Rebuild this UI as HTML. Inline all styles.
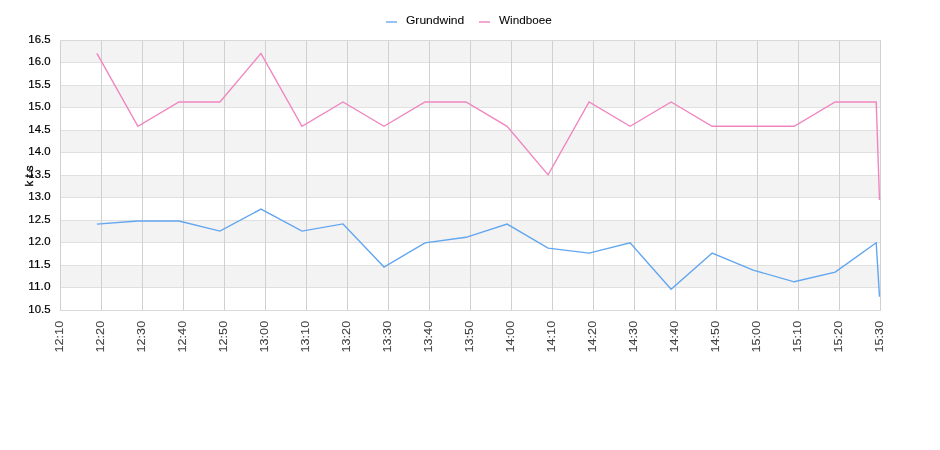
<!DOCTYPE html>
<html><head><meta charset="utf-8"><style>
html,body{margin:0;padding:0;background:#fff;width:940px;height:450px;overflow:hidden}
svg{display:block;will-change:transform}
.t{font-family:"Liberation Sans",sans-serif;font-size:11px;fill:#000;stroke:#000;stroke-width:0.2px}
.lg{stroke-width:0.05px}
.xl{fill:#404040;stroke:#404040;stroke-width:0.1px}
.k{font-family:"Liberation Sans",sans-serif;font-size:11.5px;fill:#000;stroke:#000;stroke-width:0.3px}
</style></head><body>
<svg width="940" height="450" viewBox="0 0 940 450">
<rect x="60" y="40.0" width="820" height="22.5" fill="#f3f3f3"/>
<rect x="60" y="85.0" width="820" height="22.5" fill="#f3f3f3"/>
<rect x="60" y="130.0" width="820" height="22.5" fill="#f3f3f3"/>
<rect x="60" y="175.0" width="820" height="22.5" fill="#f3f3f3"/>
<rect x="60" y="220.0" width="820" height="22.5" fill="#f3f3f3"/>
<rect x="60" y="265.0" width="820" height="22.5" fill="#f3f3f3"/>
<rect x="60" y="40" width="821" height="1" fill="#e0e0e0"/>
<rect x="60" y="62" width="821" height="1" fill="#e0e0e0"/>
<rect x="60" y="85" width="821" height="1" fill="#e0e0e0"/>
<rect x="60" y="107" width="821" height="1" fill="#e0e0e0"/>
<rect x="60" y="130" width="821" height="1" fill="#e0e0e0"/>
<rect x="60" y="152" width="821" height="1" fill="#e0e0e0"/>
<rect x="60" y="175" width="821" height="1" fill="#e0e0e0"/>
<rect x="60" y="197" width="821" height="1" fill="#e0e0e0"/>
<rect x="60" y="220" width="821" height="1" fill="#e0e0e0"/>
<rect x="60" y="242" width="821" height="1" fill="#e0e0e0"/>
<rect x="60" y="265" width="821" height="1" fill="#e0e0e0"/>
<rect x="60" y="287" width="821" height="1" fill="#e0e0e0"/>
<rect x="60" y="310" width="821" height="1" fill="#e0e0e0"/>
<rect x="60" y="40" width="1" height="271" fill="#d0d0d0"/>
<rect x="101" y="40" width="1" height="271" fill="#d0d0d0"/>
<rect x="142" y="40" width="1" height="271" fill="#d0d0d0"/>
<rect x="183" y="40" width="1" height="271" fill="#d0d0d0"/>
<rect x="224" y="40" width="1" height="271" fill="#d0d0d0"/>
<rect x="265" y="40" width="1" height="271" fill="#d0d0d0"/>
<rect x="306" y="40" width="1" height="271" fill="#d0d0d0"/>
<rect x="347" y="40" width="1" height="271" fill="#d0d0d0"/>
<rect x="388" y="40" width="1" height="271" fill="#d0d0d0"/>
<rect x="429" y="40" width="1" height="271" fill="#d0d0d0"/>
<rect x="470" y="40" width="1" height="271" fill="#d0d0d0"/>
<rect x="511" y="40" width="1" height="271" fill="#d0d0d0"/>
<rect x="552" y="40" width="1" height="271" fill="#d0d0d0"/>
<rect x="593" y="40" width="1" height="271" fill="#d0d0d0"/>
<rect x="634" y="40" width="1" height="271" fill="#d0d0d0"/>
<rect x="675" y="40" width="1" height="271" fill="#d0d0d0"/>
<rect x="716" y="40" width="1" height="271" fill="#d0d0d0"/>
<rect x="757" y="40" width="1" height="271" fill="#d0d0d0"/>
<rect x="798" y="40" width="1" height="271" fill="#d0d0d0"/>
<rect x="839" y="40" width="1" height="271" fill="#d0d0d0"/>
<rect x="880" y="40" width="1" height="271" fill="#d0d0d0"/>
<rect x="60" y="40" width="821" height="1" fill="#d9d9d9"/>
<rect x="60" y="310" width="821" height="1" fill="#d9d9d9"/>
<polyline points="96.90,224.10 137.92,221.00 178.93,221.00 219.95,231.10 260.96,209.10 301.98,231.10 343.00,223.90 384.01,267.00 425.03,242.90 466.04,237.30 507.06,224.10 548.08,248.10 589.09,253.10 630.11,242.90 671.12,289.20 712.14,253.10 753.16,270.10 794.17,281.80 835.19,272.10 876.20,242.80 879.50,296.80" fill="none" stroke="rgb(98,166,240)" stroke-width="1.4" stroke-linejoin="miter"/>
<polyline points="96.90,53.40 137.92,126.30 178.93,102.00 219.95,102.00 260.96,53.40 301.98,126.30 343.00,102.00 384.01,126.30 425.03,102.00 466.04,102.00 507.06,126.30 548.08,174.90 589.09,102.00 630.11,126.30 671.12,102.00 712.14,126.30 753.16,126.30 794.17,126.30 835.19,102.00 876.20,102.00 879.50,200.01" fill="none" stroke="rgb(240,134,192)" stroke-width="1.4" stroke-linejoin="miter"/>
<text x="50.5" y="43.1" text-anchor="end" class="t" textLength="22.17" lengthAdjust="spacingAndGlyphs">16.5</text>
<text x="50.5" y="65.1" text-anchor="end" class="t" textLength="22.17" lengthAdjust="spacingAndGlyphs">16.0</text>
<text x="50.5" y="88.1" text-anchor="end" class="t" textLength="22.17" lengthAdjust="spacingAndGlyphs">15.5</text>
<text x="50.5" y="110.1" text-anchor="end" class="t" textLength="22.17" lengthAdjust="spacingAndGlyphs">15.0</text>
<text x="50.5" y="133.1" text-anchor="end" class="t" textLength="22.17" lengthAdjust="spacingAndGlyphs">14.5</text>
<text x="50.5" y="155.1" text-anchor="end" class="t" textLength="22.17" lengthAdjust="spacingAndGlyphs">14.0</text>
<text x="50.5" y="178.1" text-anchor="end" class="t" textLength="22.17" lengthAdjust="spacingAndGlyphs">13.5</text>
<text x="50.5" y="200.1" text-anchor="end" class="t" textLength="22.17" lengthAdjust="spacingAndGlyphs">13.0</text>
<text x="50.5" y="223.1" text-anchor="end" class="t" textLength="22.17" lengthAdjust="spacingAndGlyphs">12.5</text>
<text x="50.5" y="245.1" text-anchor="end" class="t" textLength="22.17" lengthAdjust="spacingAndGlyphs">12.0</text>
<text x="50.5" y="268.1" text-anchor="end" class="t" textLength="22.17" lengthAdjust="spacingAndGlyphs">11.5</text>
<text x="50.5" y="290.1" text-anchor="end" class="t" textLength="22.17" lengthAdjust="spacingAndGlyphs">11.0</text>
<text x="50.5" y="313.1" text-anchor="end" class="t" textLength="22.17" lengthAdjust="spacingAndGlyphs">10.5</text>
<text transform="translate(62.6,320.8) rotate(-90)" text-anchor="end" class="t xl" textLength="31.70" lengthAdjust="spacingAndGlyphs">12:10</text>
<text transform="translate(103.6,320.8) rotate(-90)" text-anchor="end" class="t xl" textLength="31.70" lengthAdjust="spacingAndGlyphs">12:20</text>
<text transform="translate(144.6,320.8) rotate(-90)" text-anchor="end" class="t xl" textLength="31.70" lengthAdjust="spacingAndGlyphs">12:30</text>
<text transform="translate(185.6,320.8) rotate(-90)" text-anchor="end" class="t xl" textLength="31.70" lengthAdjust="spacingAndGlyphs">12:40</text>
<text transform="translate(226.6,320.8) rotate(-90)" text-anchor="end" class="t xl" textLength="31.70" lengthAdjust="spacingAndGlyphs">12:50</text>
<text transform="translate(267.6,320.8) rotate(-90)" text-anchor="end" class="t xl" textLength="31.70" lengthAdjust="spacingAndGlyphs">13:00</text>
<text transform="translate(308.6,320.8) rotate(-90)" text-anchor="end" class="t xl" textLength="31.70" lengthAdjust="spacingAndGlyphs">13:10</text>
<text transform="translate(349.6,320.8) rotate(-90)" text-anchor="end" class="t xl" textLength="31.70" lengthAdjust="spacingAndGlyphs">13:20</text>
<text transform="translate(390.6,320.8) rotate(-90)" text-anchor="end" class="t xl" textLength="31.70" lengthAdjust="spacingAndGlyphs">13:30</text>
<text transform="translate(431.6,320.8) rotate(-90)" text-anchor="end" class="t xl" textLength="31.70" lengthAdjust="spacingAndGlyphs">13:40</text>
<text transform="translate(472.6,320.8) rotate(-90)" text-anchor="end" class="t xl" textLength="31.70" lengthAdjust="spacingAndGlyphs">13:50</text>
<text transform="translate(513.6,320.8) rotate(-90)" text-anchor="end" class="t xl" textLength="31.70" lengthAdjust="spacingAndGlyphs">14:00</text>
<text transform="translate(554.6,320.8) rotate(-90)" text-anchor="end" class="t xl" textLength="31.70" lengthAdjust="spacingAndGlyphs">14:10</text>
<text transform="translate(595.6,320.8) rotate(-90)" text-anchor="end" class="t xl" textLength="31.70" lengthAdjust="spacingAndGlyphs">14:20</text>
<text transform="translate(636.6,320.8) rotate(-90)" text-anchor="end" class="t xl" textLength="31.70" lengthAdjust="spacingAndGlyphs">14:30</text>
<text transform="translate(677.6,320.8) rotate(-90)" text-anchor="end" class="t xl" textLength="31.70" lengthAdjust="spacingAndGlyphs">14:40</text>
<text transform="translate(718.6,320.8) rotate(-90)" text-anchor="end" class="t xl" textLength="31.70" lengthAdjust="spacingAndGlyphs">14:50</text>
<text transform="translate(759.6,320.8) rotate(-90)" text-anchor="end" class="t xl" textLength="31.70" lengthAdjust="spacingAndGlyphs">15:00</text>
<text transform="translate(800.6,320.8) rotate(-90)" text-anchor="end" class="t xl" textLength="31.70" lengthAdjust="spacingAndGlyphs">15:10</text>
<text transform="translate(841.6,320.8) rotate(-90)" text-anchor="end" class="t xl" textLength="31.70" lengthAdjust="spacingAndGlyphs">15:20</text>
<text transform="translate(882.6,320.8) rotate(-90)" text-anchor="end" class="t xl" textLength="31.70" lengthAdjust="spacingAndGlyphs">15:30</text>
<text transform="translate(32.8,176) rotate(-90)" text-anchor="middle" class="k" textLength="21" lengthAdjust="spacing">kts</text>
<rect x="386" y="21" width="11" height="2" fill="rgb(148,195,244)"/>
<text x="406" y="24" class="t lg" textLength="58.28" lengthAdjust="spacingAndGlyphs">Grundwind</text>
<rect x="479" y="21" width="11" height="2" fill="rgb(242,168,210)"/>
<text x="499" y="24" class="t lg" textLength="52.69" lengthAdjust="spacingAndGlyphs">Windboee</text>
</svg>
</body></html>
